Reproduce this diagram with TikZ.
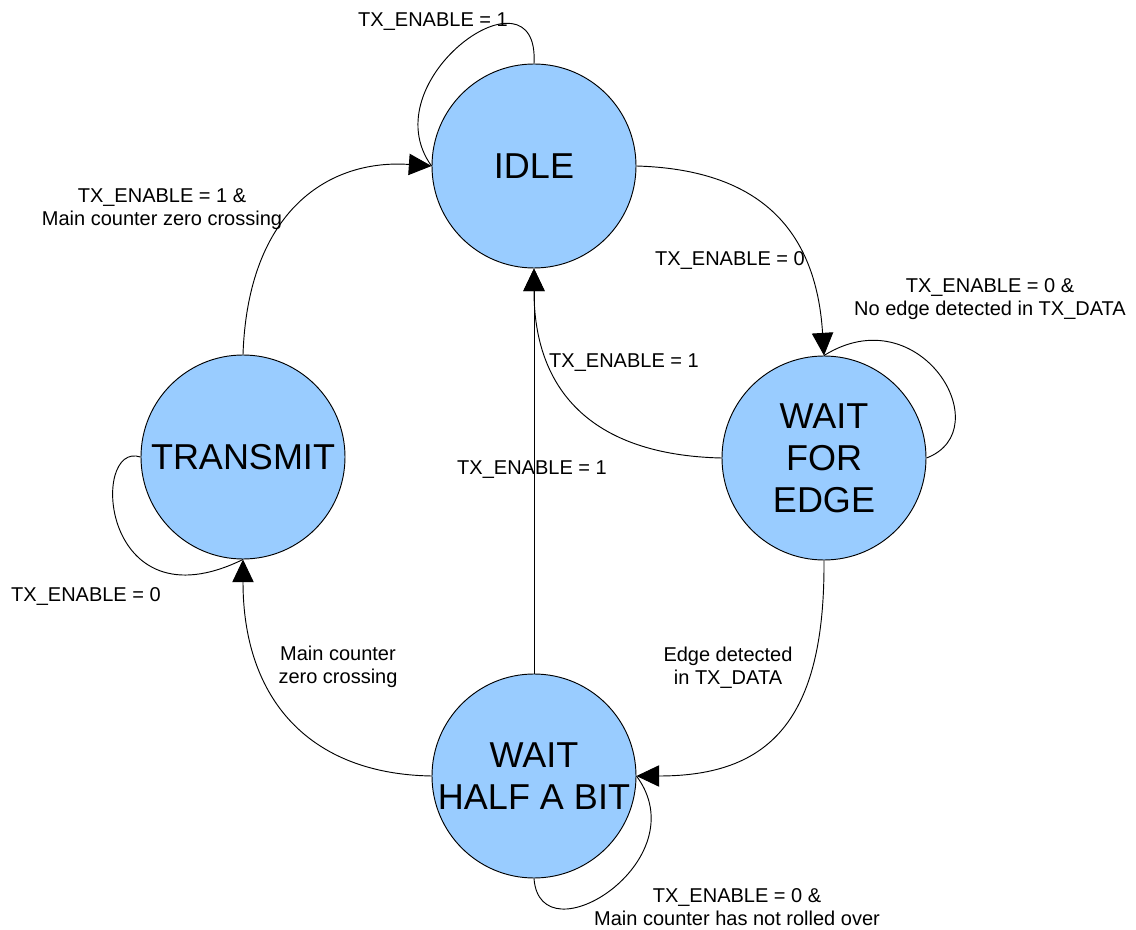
\documentclass[tikz,border=0pt]{standalone}
\usepackage{fontspec}
\setmainfont{Liberation Sans}
\usepackage{xcolor}
\usetikzlibrary{arrows.meta}
\definecolor{stateblue}{RGB}{153,204,255}

\tikzset{
	stnode/.style={circle, draw=black, line width=0.7pt, fill=stateblue, minimum size=153pt, inner sep=0pt, align=center, font=\fontsize{27}{31.5}\selectfont},
	lbl/.style={align=center, inner sep=0pt, font=\fontsize{15}{17.5}\selectfont},
	trans/.style={line width=0.7pt, -{Triangle[length=17pt,width=16pt]}},
	loopline/.style={line width=0.7pt},
}

\begin{document}
\begin{tikzpicture}[x=0.75pt, y=-0.75pt]
	\useasboundingbox (0,0) rectangle (1136,930);

	% states
	\node[stnode] (idle) at (534,166) {IDLE};
	\node[stnode] (wfe) at (824,458) {WAIT\\FOR\\EDGE};
	\node[stnode] (tx) at (243,457) {TRANSMIT};
	\node[stnode] (whab) at (534,776) {WAIT\\HALF A BIT};

	% transitions
	\draw[loopline] (idle.north) .. controls +(6,-104) and +(-62,-86) .. (idle.west);
	\draw[trans] (idle.east) .. controls +(104,3) and +(-9,-143) .. (wfe.north);
	\draw[loopline] (wfe.east) .. controls +(74,-28) and +(96,-60) .. (wfe.north);
	\draw[trans] (wfe.west) .. controls +(-132,-3) and +(0,120) .. (idle.south);
	\draw[trans] (whab.north) -- (idle.south);
	\draw[trans] (wfe.south) .. controls +(1,160) and +(133,0) .. (whab.east);
	\draw[loopline] (whab.south) .. controls +(6,82) and +(63,85) .. (whab.east);
	\draw[trans] (whab.west) .. controls +(-122,-2) and +(0,140) .. (tx.south);
	\draw[loopline] (tx.west) .. controls +(-51,-17) and +(-143,70) .. (tx.south);
	\draw[trans] (tx.north) .. controls +(5,-145) and +(-102,-7) .. (idle.west);

	% labels
	\node[lbl] (lidle) at (433,22) {TX\_ENABLE = 1};
	\node[lbl] (lidlewfe) at (730,261) {TX\_ENABLE = 0};
	\node[lbl] (lwfe) at (990,299) {TX\_ENABLE = 0 \&\\No edge detected in TX\_DATA};
	\node[lbl] (lwfeidle) at (624,363) {TX\_ENABLE = 1};
	\node[lbl] (lwhabidle) at (532,470) {TX\_ENABLE = 1};
	\node[lbl] (lwfewhab) at (728,668) {Edge detected\\in TX\_DATA};
	\node[lbl] (lwhab) at (737,907) {TX\_ENABLE = 0 \&\\Main counter has not rolled over};
	\node[lbl] (lwhabtx) at (338,667) {Main counter\\zero crossing};
	\node[lbl] (ltx) at (86,597) {TX\_ENABLE = 0};
	\node[lbl] (ltxidle) at (162,209) {TX\_ENABLE = 1 \&\\Main counter zero crossing};
\end{tikzpicture}
\end{document}
